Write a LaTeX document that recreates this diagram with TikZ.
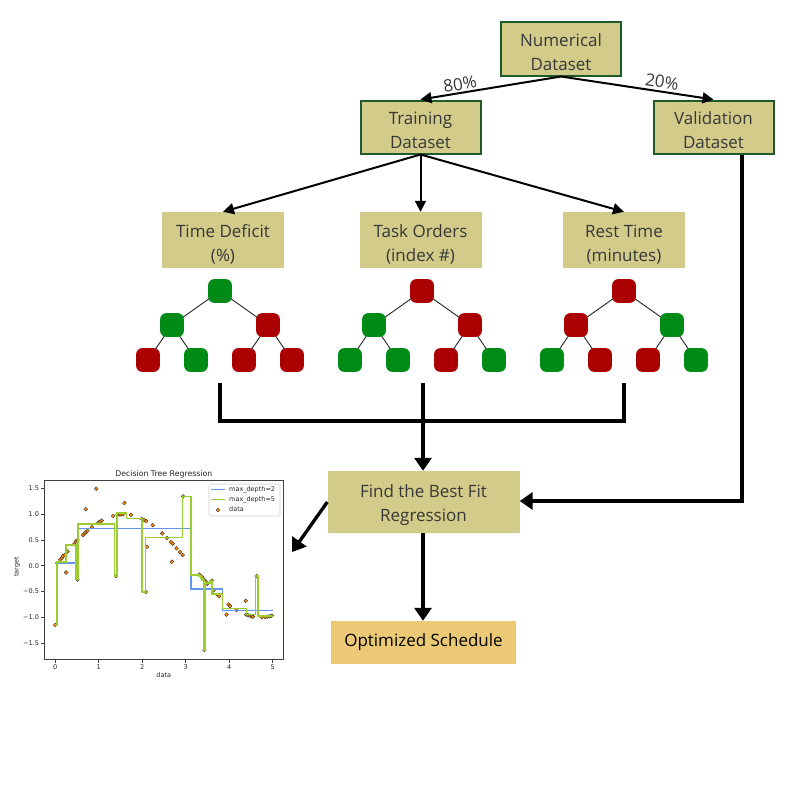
\documentclass[tikz,border=0pt]{standalone}
\usepackage{fontspec}
\setmainfont{Open Sans}
\newfontfamily\plotfont{DejaVu Sans}
\usetikzlibrary{arrows.meta,backgrounds}
\definecolor{khaki}{HTML}{D2CB8A}
\definecolor{bordergreen}{HTML}{1E5A2A}
\definecolor{schedule}{HTML}{ECC974}
\definecolor{gnode}{HTML}{008A16}
\definecolor{rnode}{HTML}{AA0000}
\definecolor{txt}{HTML}{383838}
\definecolor{mplblue}{RGB}{100,149,237}
\definecolor{mplgreen}{RGB}{154,205,50}
\definecolor{mplorange}{RGB}{255,140,0}
\newcommand{\tstrut}{\rule{0pt}{19pt}}
\newcommand{\mytree}[9]{%
  \node[#3] (#1r) at (#2,291) {};
  \node[#4] (#1a) at ({#2-48},325) {};
  \node[#5] (#1b) at ({#2+48},325) {};
  \node[#6] (#1aa) at ({#2-72},360) {};
  \node[#7] (#1ab) at ({#2-24},360) {};
  \node[#8] (#1ba) at ({#2+24},360) {};
  \node[#9] (#1bb) at ({#2+72},360) {};
  \begin{pgfonlayer}{background}
    \draw[treeedge] (#1r.center) -- (#1a.center);
    \draw[treeedge] (#1r.center) -- (#1b.center);
    \draw[treeedge] (#1a.center) -- (#1aa.center);
    \draw[treeedge] (#1a.center) -- (#1ab.center);
    \draw[treeedge] (#1b.center) -- (#1ba.center);
    \draw[treeedge] (#1b.center) -- (#1bb.center);
  \end{pgfonlayer}
}
\begin{document}
\begin{tikzpicture}[x=1pt,y=-1pt,
  mainfont/.style={font=\fontsize{17}{24.5}\selectfont},
  databox/.style={mainfont,fill=khaki,draw=bordergreen,line width=2pt,minimum width=120pt,minimum height=53pt,align=center,text=txt,inner sep=0pt},
  featbox/.style={mainfont,fill=khaki,minimum width=122pt,minimum height=56pt,align=center,text=txt,inner sep=0pt},
  gsq/.style={fill=gnode,rounded corners=6pt,minimum size=23.7pt,inner sep=0pt},
  rsq/.style={fill=rnode,rounded corners=6pt,minimum size=23.7pt,inner sep=0pt},
  treeedge/.style={draw=black!85,line width=0.9pt},
  thinarrow/.style={draw=black,line width=2pt,-{Triangle[length=11pt,width=11pt]}},
  thickline/.style={draw=black,line width=3.3pt},
  thickarrow/.style={draw=black,line width=3.3pt,-{Triangle[length=13pt,width=17pt]}},
  pct/.style={mainfont,text=txt,inner sep=0pt},
  plottxt/.style={font=\plotfont\fontsize{6.5}{7.5}\selectfont,text=black!85,inner sep=0pt},
]
\useasboundingbox (0,0) rectangle (800,800);
\begin{pgfonlayer}{background}
\fill[white] (0,0) rectangle (800,800);
\end{pgfonlayer}

% top data boxes
\node[databox] (num) at (561,49) {\tstrut Numerical\\Dataset};
\node[databox] (train) at (420.5,127) {\tstrut Training\\Dataset};
\node[databox] (val) at (713.5,127) {\tstrut Validation\\Dataset};
\draw[thinarrow] (num.south) -- (train.north);
\draw[thinarrow] (num.south) -- (val.north);
\node[pct,rotate=9] (p80) at (460,84) {80\%};
\node[pct,rotate=-8.5] (p20) at (662,82) {20\%};

% feature boxes
\node[featbox] (td) at (223,240) {\rule{0pt}{22pt}Time Deficit\\(\%)};
\node[featbox] (to) at (420.5,240) {\rule{0pt}{22pt}Task Orders\\(index \#)};
\node[featbox] (rt) at (624,240) {\rule{0pt}{22pt}Rest Time\\(minutes)};
\draw[thinarrow] (train.south) -- (td.north);
\draw[thinarrow] (train.south) -- (to.north);
\draw[thinarrow] (train.south) -- (rt.north);

% trees
\mytree{ta}{220}{gsq}{gsq}{rsq}{rsq}{gsq}{rsq}{rsq}
\mytree{tb}{422}{rsq}{gsq}{rsq}{gsq}{gsq}{rsq}{gsq}
\mytree{tc}{624}{rsq}{rsq}{gsq}{gsq}{rsq}{rsq}{gsq}

% lower boxes
\node[featbox,minimum width=192pt,minimum height=62pt] (find) at (423.5,502) {\tstrut Find the Best Fit\\Regression};
\node[mainfont,fill=schedule,minimum width=185pt,minimum height=43pt,inner sep=0pt,text=black] (opt) at (423.5,642.5) {Optimized Schedule};

% connectors
\coordinate (c1) at (220,383);
\coordinate (c2) at (423,383);
\coordinate (c3) at (624,383);
\coordinate (j) at (423,421);
\draw[thickline] (c1) |- (j) -| (c3);
\draw[thickarrow] (c2) -- (c2 |- find.north);
\coordinate (vx) at (742,501);
\draw[thickarrow] (vx |- val.south) -- (vx) -- (vx -| find.east);
\draw[thickarrow] (find.south -| c2) -- (opt.north -| c2);
\coordinate (pa) at (292,552);
\draw[thickarrow] (find.west) -- (pa);

% ---- regression plot ----
\node[plottxt,font=\plotfont\fontsize{7.8}{9}\selectfont] (ptitle) at (163.8,474) {Decision Tree Regression};
\node[plottxt] (xlab) at (163.8,675) {data};
\node[plottxt,rotate=90] (ylab) at (17,567) {target};
\begin{scope}
  \clip (44.3,480) rectangle (283.3,659);
  \begin{scope}[shift={(55.3,565.8)},x=43.47pt,y=51.43pt]
    \foreach \px/\py in {0.00/-1.15,0.11/0.12,0.15/0.15,0.18/0.19,0.22/0.21,0.25/-0.13,0.28/0.28,0.43/0.42,0.47/0.47,0.51/0.50,0.51/-0.27,0.64/0.60,0.67/0.63,0.70/0.65,0.74/0.68,0.70/1.10,0.84/0.75,0.94/1.50,0.99/0.84,1.03/0.86,1.07/0.88,1.33/0.97,1.40/-0.20,1.43/0.99,1.48/1.00,1.51/1.00,1.56/1.00,1.59/1.22,1.74/0.99,1.99/0.91,2.04/0.89,2.09/0.87,2.08/-0.51,2.11/0.37,2.24/0.79,2.46/0.63,2.57/0.54,2.66/0.46,2.70/0.43,2.68/0.08,2.79/0.34,2.87/0.27,2.93/0.21,2.94/1.35,3.31/-0.17,3.37/-0.21,3.40/-0.25,3.44/-0.29,3.46/-0.31,3.43/-1.64,3.50/-0.35,3.60/-0.29,3.64/-0.48,3.74/-0.57,3.77/-0.59,3.94/-0.95,3.98/-0.75,4.02/-0.78,4.17/-0.86,4.38/-0.68,4.39/-0.95,4.43/-0.96,4.48/-0.97,4.52/-0.98,4.55/-0.99,4.63/-0.20,4.75/-1.00,4.83/-1.00,4.88/-0.99,4.94/-0.98,4.98/-0.97}
      \filldraw[fill=mplorange,draw=black!80,line width=0.4pt] (\px,\py) circle[radius=1.9pt];
    \draw[mplblue,line width=1.4pt] (0,0.055) -- (0.51,0.055) -- (0.51,0.72) -- (3.12,0.72) -- (3.12,-0.45) -- (3.85,-0.45) -- (3.85,-0.87) -- (5,-0.87);
    \draw[mplgreen,line width=1.5pt] (0,-1.15) -- (0.04,-1.15) -- (0.04,0.07) -- (0.245,0.07) -- (0.245,0.40) -- (0.48,0.40) -- (0.48,-0.27) -- (0.52,-0.27) -- (0.52,0.81) -- (1.36,0.81) -- (1.36,-0.20) -- (1.42,-0.20) -- (1.42,1.03) -- (1.64,1.03) -- (1.64,0.92) -- (1.99,0.92) -- (1.99,-0.51) -- (2.08,-0.51) -- (2.08,0.55) -- (2.93,0.55) -- (2.93,1.35) -- (3.12,1.35) -- (3.12,-0.18) -- (3.31,-0.18) -- (3.31,-0.20) -- (3.35,-0.20) -- (3.35,-0.24) -- (3.38,-0.24) -- (3.38,-0.28) -- (3.42,-0.28) -- (3.42,-1.64) -- (3.45,-1.64) -- (3.45,-0.33) -- (3.56,-0.33) -- (3.56,-0.29) -- (3.61,-0.29) -- (3.61,-0.55) -- (3.85,-0.55) -- (3.85,-0.83) -- (4.40,-0.83) -- (4.40,-0.95) -- (4.60,-0.95) -- (4.60,-0.20) -- (4.66,-0.20) -- (4.66,-0.98) -- (5,-0.98);
  \end{scope}
\end{scope}
\draw[black!75,line width=0.8pt] (44.3,480) rectangle (283.3,659);
% ticks
\foreach \t in {0,1,2,3,4,5}
  \draw[black!75,line width=0.7pt] ({55.3+43.47*\t},659) -- ({55.3+43.47*\t},662.5) node[plottxt,anchor=north,yshift=-1.5pt] {\t};
\foreach \t/\lab in {1.5/1.5,1.0/1.0,0.5/0.5,0.0/0.0,-0.5/\textminus0.5,-1.0/\textminus1.0,-1.5/\textminus1.5}
  \draw[black!75,line width=0.7pt] (44.3,{565.8-51.43*\t}) -- (40.8,{565.8-51.43*\t}) node[plottxt,anchor=east,xshift=-1.5pt] {\lab};
% legend
\draw[black!20,fill=white,rounded corners=1.5pt,line width=0.6pt] (209,484) rectangle (280,516);
\draw[mplblue,line width=1.4pt] (211,489.3) -- (225,489.3);
\draw[mplgreen,line width=1.5pt] (211,499.3) -- (225,499.3);
\filldraw[fill=mplorange,draw=black!80,line width=0.4pt] (218,510) circle[radius=1.9pt];
\node[plottxt,anchor=west] (l1) at (229,489.3) {max\_depth=2};
\node[plottxt,anchor=west] (l2) at (229,499.3) {max\_depth=5};
\node[plottxt,anchor=west] (l3) at (229,509.5) {data};
\end{tikzpicture}
\end{document}
